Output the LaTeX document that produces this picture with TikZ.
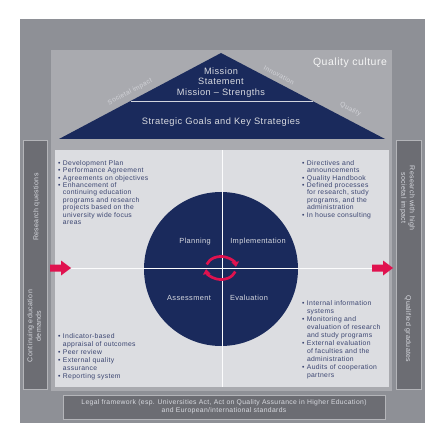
\documentclass[tikz,border=0pt]{standalone}
\usepackage{fontspec}
\setmainfont{Liberation Sans}[LetterSpace=5]
\usetikzlibrary{arrows.meta,calc}
\definecolor{outerc}{HTML}{8E9096}
\definecolor{qpanel}{HTML}{A9AAAF}
\definecolor{lpanel}{HTML}{DCDDE1}
\definecolor{navy}{HTML}{1A2A5C}
\definecolor{sidebox}{HTML}{6C6D73}
\definecolor{sideline}{HTML}{B4B5B9}
\definecolor{listtext}{HTML}{3A4470}
\definecolor{arrowred}{HTML}{E0124F}
\definecolor{lighttext}{HTML}{D8DAE0}
\definecolor{edgetext}{HTML}{D2D3D8}
\newcommand{\bul}{\llap{\textbullet\hspace{2.4pt}}}
\begin{document}
\begin{tikzpicture}[x=1pt,y=1pt,
  txt/.style={inner sep=0pt, outer sep=0pt},
  listbox/.style={txt, anchor=north west, align=left, text=listtext, font=\fontsize{6.8}{7.4}\selectfont},
  listboxb/.style={listbox, font=\fontsize{6.8}{8}\selectfont},
  sidepanel/.style={draw=sideline, line width=0.8pt, fill=sidebox, inner sep=0pt},
  sidetext/.style={txt, align=center, text=lighttext, font=\fontsize{7}{8.5}\selectfont},
  quadlabel/.style={txt, text=lighttext, font=\fontsize{7.4}{9}\selectfont},
  edgelabel/.style={txt, text=edgetext, font=\fontsize{6.6}{8}\selectfont},
  divider/.style={draw=white!92!lpanel, line width=0.9pt},
  cyc/.style={draw=arrowred, line width=2.7pt, -{Triangle[length=5pt,width=7.5pt]}},
  blockarrow/.style={fill=arrowred}
]
\useasboundingbox (0,0) rectangle (448,-444);
\fill[white] (0,0) rectangle (448,-444);
% frames
\fill[outerc] (20,-19) rectangle (425,-423);
\fill[qpanel] (51,-50) rectangle (392,-391);
\fill[lpanel] (55,-150) rectangle (389,-387);

% pyramid
\fill[navy] (59,-139) -- (221,-53) -- (385,-139) -- cycle;
\draw[draw=white!80!navy, line width=0.8pt] (130.6,-101) -- (312.5,-101);
\node[txt, align=center, text=lighttext, font=\fontsize{9.2}{10.7}\selectfont] (mission) at (221,-82.5) {Mission\\Statement\\Mission -- Strengths};
\node[txt, text=lighttext, font=\fontsize{9.3}{11}\selectfont] (goals) at (221,-122) {Strategic Goals and Key Strategies};
\node[edgelabel, rotate=28] (societal) at (130,-92) {Societal impact};
\node[edgelabel, rotate=-27.7] (innovation) at (279,-75) {Innovation};
\node[edgelabel, rotate=-27.7] (quality) at (350.5,-109.5) {Quality};
\node[txt, text=white!88!qpanel, font=\fontsize{10.5}{12}\selectfont] (qculture) at (350,-63) {Quality culture};

% circle and dividers
\fill[navy] (221,-269) circle (77);
\draw[divider] (222,-150) -- (222,-387);
\draw[divider] (71,-268) -- (372,-268);
\node[quadlabel] (planning) at (195,-242) {Planning};
\node[quadlabel] (implementation) at (258,-242) {Implementation};
\node[quadlabel] (assessment) at (189,-298) {Assessment};
\node[quadlabel] (evaluation) at (249,-298) {Evaluation};
\coordinate (cc) at (221,-268);
\draw[cyc] ($(cc)+(162:15pt and 11.5pt)$) arc[start angle=162, end angle=6, x radius=15pt, y radius=11.5pt];
\draw[cyc] ($(cc)+(-18:15pt and 11.5pt)$) arc[start angle=-18, end angle=-174, x radius=15pt, y radius=11.5pt];

% block arrows
\fill[blockarrow] (50,-264.5) -- (61,-264.5) -- (61,-260.5) -- (71,-268) -- (61,-275.5) -- (61,-271.5) -- (50,-271.5) -- cycle;
\fill[blockarrow] (372,-264.5) -- (383,-264.5) -- (383,-260.5) -- (393,-268) -- (383,-275.5) -- (383,-271.5) -- (372,-271.5) -- cycle;

% lists
\node[listbox] (tl) at (63,-160.3) {\bul Development Plan\\\bul Performance Agreement\\\bul Agreements on objectives\\\bul Enhancement of\\continuing education\\programs and research\\projects based on the\\university wide focus\\areas};
\node[listbox] (tr) at (307,-160.3) {\bul Directives and\\announcements\\\bul Quality Handbook\\\bul Defined processes\\for research, study\\programs, and the\\administration\\\bul In house consulting};
\node[listboxb] (bl) at (63,-333.3) {\bul Indicator-based\\appraisal of outcomes\\\bul Peer review\\\bul External quality\\assurance\\\bul Reporting system};
\node[listboxb] (br) at (307,-300.3) {\bul Internal information\\systems\\\bul Monitoring and\\evaluation of research\\and study programs\\\bul External evaluation\\of faculties and the\\administration\\\bul Audits of cooperation\\partners};

% side panels
\node[sidepanel, minimum width=24pt, minimum height=249pt] (leftbox) at (35,-264.5) {};
\node[sidepanel, minimum width=25pt, minimum height=249pt] (rightbox) at (408.5,-264.5) {};
\node[sidetext, rotate=90] (rq) at (36.5,-207) {Research questions};
\node[sidetext, rotate=90] (ced) at (34,-326) {Continuing education\\demands};
\node[sidetext, rotate=-90] (rwh) at (407.5,-198) {Research with high\\societal impact};
\node[sidetext, rotate=-90] (qg) at (408,-329) {Qualified graduates};

% legal box
\node[sidepanel, minimum width=322pt, minimum height=24pt, align=center, text=lighttext, font=\fontsize{6.8}{8}\selectfont] (legal) at (224,-407) {Legal framework (esp. Universities Act, Act on Quality Assurance in Higher Education)\\and European/international standards};
\end{tikzpicture}
\end{document}
